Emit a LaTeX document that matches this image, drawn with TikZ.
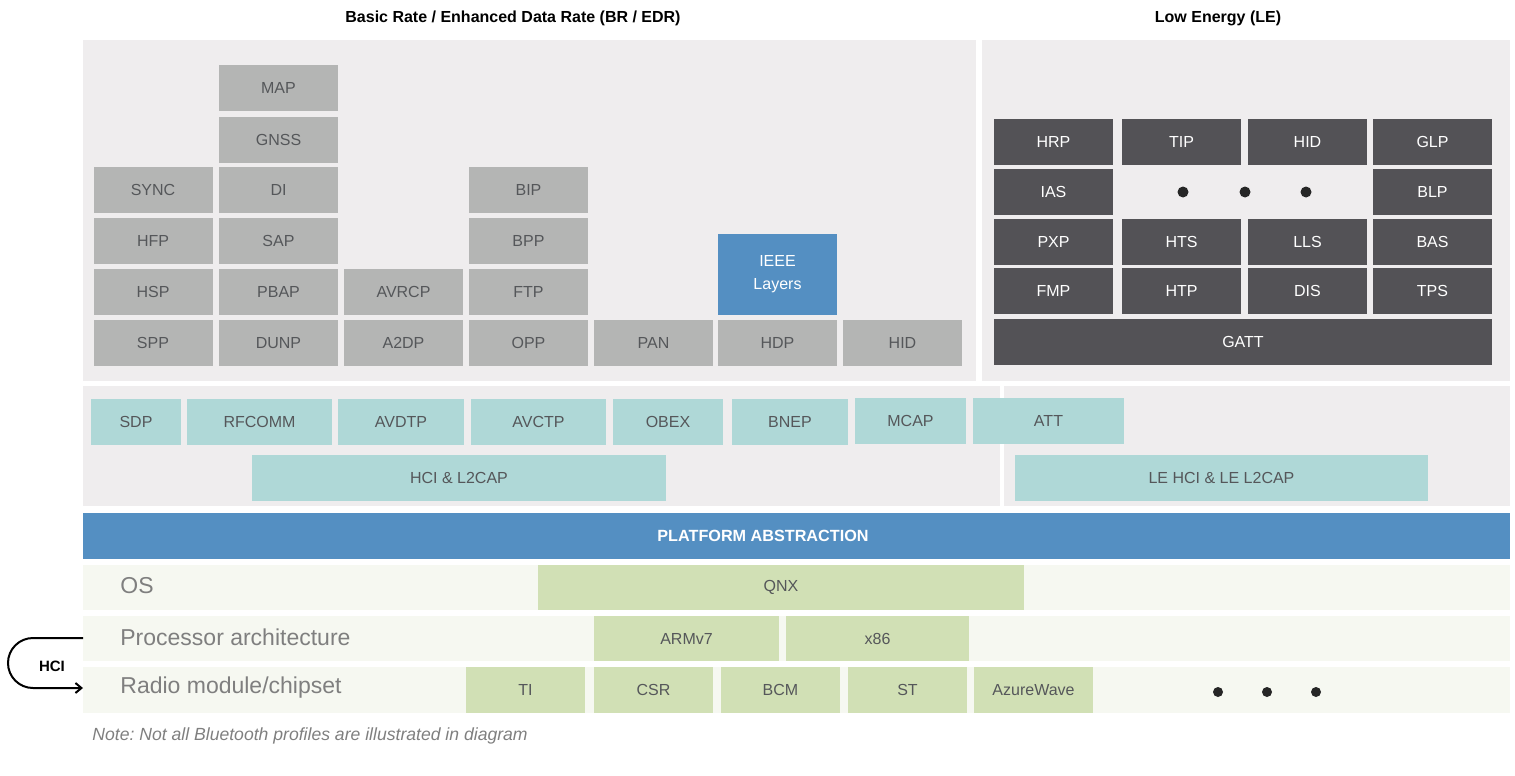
\documentclass[tikz,border=0pt]{standalone}
\usepackage{fontspec}
\setmainfont{Liberation Sans}
\usepackage{tikz}
\usetikzlibrary{arrows.meta}
\definecolor{panelbg}{HTML}{EFEDEE}
\definecolor{profgray}{HTML}{B4B5B4}
\definecolor{boxtext}{HTML}{55575A}
\definecolor{ledark}{HTML}{535256}
\definecolor{ieeeblue}{HTML}{548FC2}
\definecolor{prototeal}{HTML}{AFD8D7}
\definecolor{rowbg}{HTML}{F6F8F1}
\definecolor{chipgreen}{HTML}{D1E0B5}
\definecolor{lbltext}{HTML}{7F7F7F}
\newcommand{\BoxFont}[0]{\fontsize{8}{9.5}\selectfont}
\frenchspacing

\begin{document}
\begin{tikzpicture}[x=0.5pt,y=-0.5pt,
  prof/.style={fill=profgray,text=boxtext,font=\BoxFont,inner sep=0pt,
    minimum width=59.5pt,minimum height=23pt},
  leprof/.style={prof,fill=ledark,text=white},
  proto/.style={prof,fill=prototeal},
  chip/.style={prof,fill=chipgreen},
  rowlbl/.style={anchor=west,text=lbltext,font=\fontsize{11.5}{13}\selectfont,inner sep=0pt},
  head/.style={font=\bfseries\fontsize{8}{9.5}\selectfont,inner sep=0pt},
  bigdot/.style={circle,fill=black!85,minimum size=5.5pt,inner sep=0pt}]

  \useasboundingbox (0,0) rectangle (1515,776);

  %% panels
  \fill[panelbg] (83,40) rectangle (976,381);    %% BR / EDR
  \fill[panelbg] (982,40) rectangle (1510,381);  %% LE
  \fill[panelbg] (83,386) rectangle (1000,506);
  \fill[panelbg] (1004,386) rectangle (1510,506);

  \node[head] (bredr) at (513,18) {Basic Rate / Enhanced Data Rate (BR / EDR)};
  \node[head] (lehead) at (1218,18) {Low Energy (LE)};

  %% BR / EDR profiles
  \node[prof] (sync) at (153,190) {SYNC};
  \node[prof] (hfp) at (153,241) {HFP};
  \node[prof] (hsp) at (153,292) {HSP};
  \node[prof] (spp) at (153,343) {SPP};

  \node[prof] (map) at (278.5,88) {MAP};
  \node[prof] (gnss) at (278.5,139.5) {GNSS};
  \node[prof] (di) at (278.5,190) {DI};
  \node[prof] (sap) at (278.5,241) {SAP};
  \node[prof] (pbap) at (278.5,292) {PBAP};
  \node[prof] (dunp) at (278.5,343) {DUNP};

  \node[prof] (avrcp) at (403.5,292) {AVRCP};
  \node[prof] (atdp) at (403.5,343) {A2DP};

  \node[prof] (bip) at (528.5,190) {BIP};
  \node[prof] (bpp) at (528.5,241) {BPP};
  \node[prof] (ftp) at (528.5,292) {FTP};
  \node[prof] (opp) at (528.5,343) {OPP};

  \node[prof] (pan) at (653.5,343) {PAN};
  \node[prof,fill=ieeeblue,text=white,minimum height=40.5pt,align=center]
    (ieee) at (777.5,274.5) {IEEE\\[2pt]Layers};
  \node[prof] (hdp) at (777.5,343) {HDP};
  \node[prof] (hidbr) at (902.5,343) {HID};

  %% LE profiles
  \node[leprof] (hrp) at (1053.5,142) {HRP};
  \node[leprof] (tip) at (1181.5,142) {TIP};
  \node[leprof] (hidle) at (1307.5,142) {HID};
  \node[leprof] (glp) at (1432.5,142) {GLP};

  \node[leprof] (ias) at (1053.5,192) {IAS};
  \node[bigdot] (ledotA) at (1183,192) {};
  \node[bigdot] (ledotB) at (1245,192) {};
  \node[bigdot] (ledotC) at (1306,192) {};
  \node[leprof] (blp) at (1432.5,192) {BLP};

  \node[leprof] (pxp) at (1053.5,242) {PXP};
  \node[leprof] (hts) at (1181.5,242) {HTS};
  \node[leprof] (lls) at (1307.5,242) {LLS};
  \node[leprof] (bas) at (1432.5,242) {BAS};

  \node[leprof] (fmp) at (1053.5,291) {FMP};
  \node[leprof] (htp) at (1181.5,291) {HTP};
  \node[leprof] (dis) at (1307.5,291) {DIS};
  \node[leprof] (tps) at (1432.5,291) {TPS};

  \node[leprof,minimum width=249pt] (gatt) at (1243,342) {GATT};

  %% protocols
  \node[proto,minimum width=45pt] (sdp) at (136,421.5) {SDP};
  \node[proto,minimum width=72.5pt] (rfcomm) at (259.5,421.5) {RFCOMM};
  \node[proto,minimum width=63pt] (avdtp) at (401,421.5) {AVDTP};
  \node[proto,minimum width=67.5pt] (avctp) at (538.5,421.5) {AVCTP};
  \node[proto,minimum width=55pt] (obex) at (668,421.5) {OBEX};
  \node[proto,minimum width=58pt] (bnep) at (790,421.5) {BNEP};
  \node[proto,minimum width=55.5pt] (mcap) at (910.5,420.5) {MCAP};
  \node[proto,minimum width=75.5pt] (att) at (1048.5,421) {ATT};

  \node[proto,minimum width=207pt] (hcil2) at (459,477.5) {HCI \& L2CAP};
  \node[proto,minimum width=206.5pt] (lehcil2) at (1221.5,477.5) {LE HCI \& LE L2CAP};

  %% platform
  \node[prof,fill=ieeeblue,minimum width=713.5pt] (platform) at (796.5,536) {};
  \node[text=white,inner sep=0pt,font=\bfseries\fontsize{8.1}{9.5}\selectfont]
    (platlbl) at (763,536) {PLATFORM ABSTRACTION};

  \fill[rowbg] (83,565) rectangle (1510,610);
  \fill[rowbg] (83,616) rectangle (1510,661);
  \fill[rowbg] (83,667) rectangle (1510,713);

  \node[rowlbl] (oslbl) at (120,586) {OS};
  \node[rowlbl] (cpulbl) at (120,637) {Processor architecture};
  \node[rowlbl] (radiolbl) at (120,688) {Radio module/chipset};

  \node[chip,minimum width=243pt,minimum height=22.5pt] (qnx) at (781,587.5) {QNX};
  \node[chip,minimum width=92.5pt,minimum height=22.5pt] (armv) at (686.5,638.5) {ARMv7};
  \node[chip,minimum width=91.5pt,minimum height=22.5pt] (xes) at (877.5,638.5) {x86};

  \node[chip] (ti) at (525.5,690) {TI};
  \node[chip] (csr) at (653.5,690) {CSR};
  \node[chip] (bcm) at (780.5,690) {BCM};
  \node[chip] (st) at (907.5,690) {ST};
  \node[chip] (azure) at (1033.5,690) {AzureWave};
  \node[bigdot,minimum size=5pt] (chipdotA) at (1218,692) {};
  \node[bigdot,minimum size=5pt] (chipdotB) at (1267,692) {};
  \node[bigdot,minimum size=5pt] (chipdotC) at (1316,692) {};

  %% HCI loop
  \coordinate (hcifrom) at (83,638);
  \coordinate (hcito) at (83,688);
  \draw[line width=1pt,rounded corners=12.5pt,-{Straight Barb[length=3pt,width=5pt]}]
    (hcifrom) -- (8,638) -- (8,688) -- (hcito);
  \node[font=\bfseries\fontsize{7.5}{9}\selectfont] (hcilbl) at (52,666) {HCI};

  \node[anchor=west,text=lbltext,font=\itshape\fontsize{8.8}{10}\selectfont,inner sep=0pt]
    (note) at (92,736) {Note: Not all Bluetooth profiles are illustrated in diagram};

\end{tikzpicture}
\end{document}
